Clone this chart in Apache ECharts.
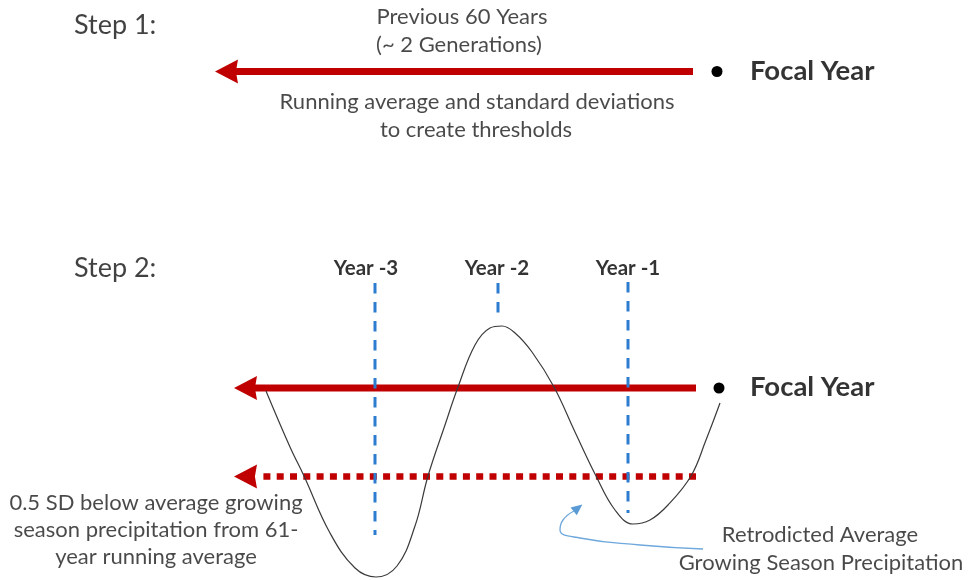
<!DOCTYPE html>
<html><head><meta charset="utf-8">
<script src="https://cdn.jsdelivr.net/npm/echarts@6/dist/echarts.min.js"></script>
<style>html,body{margin:0;padding:0;background:#fff}#c{width:971px;height:580px}</style>
</head><body><div id="c"></div>
<script>
// ---- diagram content (in diagram units) ----
const stepLabels = ['Step 1:', 'Step 2:'];
const step1Top = ['Previous 60 Years', '(~ 2 Generations)'];
const step1Bottom = ['Running average and standard deviations', 'to create thresholds'];
const focalLabel = 'Focal Year';
const yearLabels = ['Year -3', 'Year -2', 'Year -1'];
const leftNote = ['0.5 SD below average growing', 'season precipitation from 61-', 'year running average'];
const rightNote = ['Retrodicted Average', 'Growing Season Precipitation'];

// x positions of the year marks and y levels of the thresholds
const yearX = [375, 498, 628];
const yearLineTop = [283, 283, 282];
const yearLineBottom = [535, 316, 513];
const step1Level = 71.5;
const averageLevel = 388;
const thresholdLevel = 476.5;
const focalX = 717;

// retrodicted precipitation curve
const precipCurve = [
  [266, 391], [290, 447], [304, 476], [330, 533], [355, 568], [376, 577], [397, 566],
  [415, 526], [428, 476], [445, 425], [458, 387], [475, 345], [490, 328], [502, 326],
  [515, 333], [532, 352], [554, 387], [575, 432], [596, 476], [615, 510], [633, 524],
  [650, 520], [668, 505], [691, 476], [706, 440], [720, 403]
];
// blue pointer to the curve
const pointerCurve = [[703, 549], [640, 545], [580, 538], [560, 530], [563, 520], [574, 511]];

// ---- chart ----
const chart = echarts.init(document.getElementById('c'), null, {renderer: 'canvas'});
const RED = '#C00000';
const BLUE = '#2C7CD0';
const FONT = 'Lato';
const TXT = '#1c1c1c';
const arrowPath = 'path://M0,10 L22,0 L20,10 L22,20 Z';

function textSeries(items, opts) {
  return {
    type: 'scatter', symbolSize: 0, silent: true, z: 10,
    data: items.map(it => ({value: [it[0], it[1]], name: it[2]})),
    label: Object.assign({
      show: true, position: 'inside', formatter: p => p.name,
      color: TXT, fontFamily: FONT, fontSize: 21.5
    }, opts)
  };
}
function hLine(x1, x2, y, style) {
  return {type: 'line', symbol: 'none', silent: true, data: [[x1, y], [x2, y]],
    lineStyle: Object.assign({color: RED, width: 7, cap: 'butt'}, style)};
}

const series = [];
// Step 1 arrow
series.push(hLine(693, 230, step1Level, {}));
// Step 2 average arrow
series.push(hLine(696, 250, averageLevel, {}));
// Step 2 threshold (dotted) arrow
series.push(hLine(696, 260, thresholdLevel, {type: [7, 6.3], width: 6.5}));
// arrow heads
series.push({
  type: 'scatter', symbol: arrowPath, symbolSize: [23, 24], silent: true, z: 5,
  itemStyle: {color: RED, opacity: 1},
  data: [[226.5, step1Level], [245.5, averageLevel], [245.5, thresholdLevel]]
});
// focal year dots
series.push({
  type: 'scatter', symbol: 'circle', symbolSize: 11, silent: true, z: 5,
  itemStyle: {color: '#000', opacity: 1},
  data: [[focalX, step1Level], [719, averageLevel]]
});
// year dashed lines
yearX.forEach((x, i) => {
  series.push({type: 'line', symbol: 'none', silent: true, z: 3,
    data: [[x, yearLineTop[i]], [x, yearLineBottom[i]]],
    lineStyle: {color: BLUE, width: 3, type: [10.5, 8.5], cap: 'butt'}});
});
// precipitation curve
series.push({type: 'line', symbol: 'none', silent: true, smooth: 0.4, z: 4,
  data: precipCurve, lineStyle: {color: '#3a3a3a', width: 1.2}});
// pointer
series.push({type: 'line', symbol: 'none', silent: true, smooth: 0.5, z: 4,
  data: pointerCurve, lineStyle: {color: '#6FA8DC', width: 1.3}});
series.push({type: 'scatter', symbol: 'triangle', symbolSize: [10, 11], symbolRotate: -52,
  silent: true, itemStyle: {color: '#5B9BD5', opacity: 1}, data: [[578, 508]]});

// texts
series.push(textSeries([[74, 25, stepLabels[0]], [74, 268, stepLabels[1]]],
  {position: 'right', distance: 0, fontSize: 27, color: '#111'}));
series.push(textSeries([[462, 17, step1Top[0]], [459, 45, step1Top[1]],
  [477, 102, step1Bottom[0]], [476, 130, step1Bottom[1]]], {fontSize: 22}));
series.push(textSeries([[750, step1Level, focalLabel], [750, averageLevel - 1, focalLabel]],
  {position: 'right', distance: 0, fontSize: 27.5, fontWeight: 'bold', color: '#000'}));
series.push(textSeries(yearLabels.map((t, i) => [[366, 497, 628][i], 268, t]),
  {fontSize: 20.5, fontWeight: 'bold', color: '#000'}));
series.push(textSeries([[156, 503, leftNote[0]], [156, 530, leftNote[1]], [156, 557, leftNote[2]]],
  {fontSize: 22}));
series.push(textSeries([[820, 535, rightNote[0]], [821, 563, rightNote[1]]], {fontSize: 22}));

chart.setOption({
  animation: false,
  backgroundColor: '#fff',
  grid: {left: 0, right: 0, top: 0, bottom: 0},
  xAxis: {type: 'value', min: 0, max: 971, show: false},
  yAxis: {type: 'value', min: 0, max: 580, inverse: true, show: false},
  series
});
</script></body></html>
